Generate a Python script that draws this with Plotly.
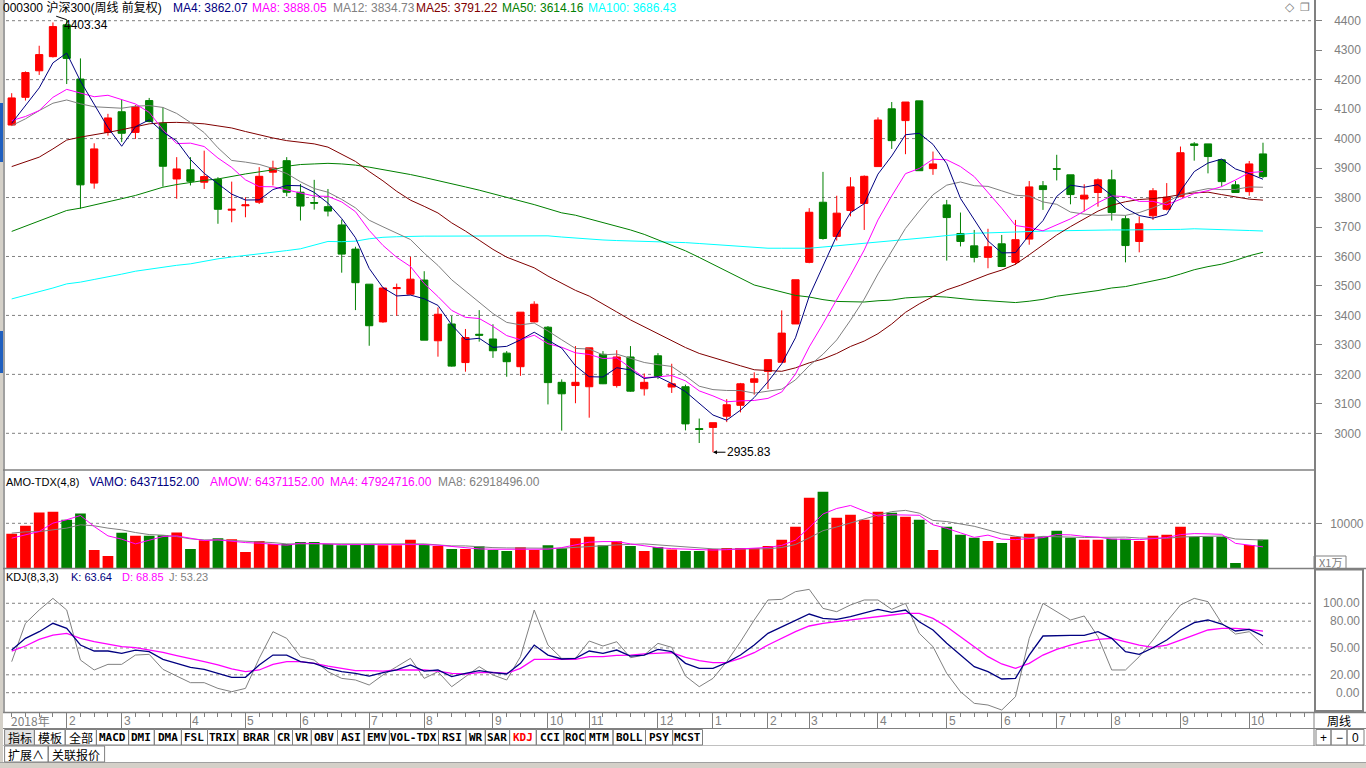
import plotly.graph_objects as go

W, H = 1366, 768
FONT = "Liberation Sans, Noto Sans CJK SC, sans-serif"
CJK = "Noto Sans CJK SC, Liberation Sans, sans-serif"
MONO = "DejaVu Sans Mono, Liberation Mono, monospace"

# ---------------- data (weekly, CSI 300) ----------------
opens = [4046, 4140, 4230, 4278, 4386, 4202, 3849, 4021, 4091, 4021,
         4129, 4052, 3863, 3894, 3852, 3862, 3757, 3772, 3784, 3886,
         3925, 3818, 3783, 3769, 3707, 3625, 3506, 3378, 3491, 3472,
         3520, 3314, 3371, 3240, 3336, 3320, 3272, 3226, 3378, 3360,
         3173, 3162, 3158, 3268, 3162, 3259, 3151, 3263, 3157, 3158,
         3016, 3020, 3058, 3095, 3173, 3210, 3241, 3371, 3580, 3784,
         3668, 3756, 3780, 3905, 4101, 4061, 4128, 3898, 3775, 3678,
         3636, 3597, 3643, 3580, 3659, 3840, 3898, 3877, 3795, 3817,
         3860, 3728, 3651, 3738, 3760, 3803, 3982, 3982, 3928, 3843,
         3820, 3948]
highs = [4154, 4228, 4315, 4394, 4403.34, 4272, 3984, 4084, 4131, 4114,
         4138, 4106, 3937, 3937, 3959, 3869, 3854, 3801, 3903, 3925,
         3937, 3846, 3860, 3829, 3725, 3633, 3506, 3495, 3508, 3599,
         3550, 3427, 3398, 3354, 3418, 3370, 3279, 3411, 3448, 3364,
         3183, 3296, 3290, 3279, 3282, 3296, 3203, 3272, 3236, 3165,
         3050, 3036, 3116, 3171, 3207, 3250, 3417, 3521, 3764, 3887,
         3806, 3869, 3875, 4072, 4124, 4124, 4128, 3956, 3792, 3749,
         3690, 3694, 3673, 3724, 3856, 3856, 3945, 3877, 3845, 3865,
         3894, 3739, 3736, 3832, 3849, 3973, 3988, 3982, 3928, 3856,
         3924, 3986]
lows = [4044, 4129, 4216, 4275, 4185, 3762, 3830, 4010, 3988, 3999,
        4055, 3837, 3796, 3841, 3829, 3711, 3716, 3733, 3778, 3841,
        3804, 3722, 3759, 3736, 3545, 3418, 3297, 3375, 3399, 3469,
        3316, 3260, 3226, 3209, 3311, 3256, 3192, 3195, 3376, 3098,
        3009, 3102, 3053, 3167, 3155, 3141, 3128, 3184, 3137, 3010,
        2967, 2935.83, 3038, 3071, 3131, 3150, 3241, 3371, 3577, 3657,
        3654, 3736, 3690, 3905, 3965, 3947, 3891, 3877, 3586, 3634,
        3580, 3560, 3564, 3572, 3640, 3758, 3858, 3777, 3753, 3769,
        3722, 3580, 3614, 3724, 3756, 3801, 3925, 3882, 3837, 3817,
        3806, 3866]
closes = [4138, 4224, 4285, 4380, 4272, 3843, 3965, 4070, 4018, 4108,
          4058, 3906, 3897, 3855, 3871, 3760, 3760, 3775, 3872, 3900,
          3818, 3771, 3781, 3754, 3608, 3511, 3365, 3493, 3494, 3523,
          3316, 3404, 3228, 3325, 3333, 3280, 3243, 3411, 3438, 3172,
          3134, 3173, 3290, 3168, 3259, 3143, 3173, 3193, 3168, 3032,
          3013, 3036, 3097, 3168, 3185, 3250, 3340, 3521, 3750, 3661,
          3747, 3836, 3872, 4063, 3993, 4124, 3891, 3914, 3732, 3651,
          3597, 3633, 3566, 3657, 3836, 3827, 3896, 3810, 3808, 3860,
          3749, 3637, 3711, 3823, 3801, 3952, 3977, 3939, 3854, 3817,
          3914, 3871]

ma4 = [4052, 4110, 4172, 4257, 4290, 4195, 4115, 4037.5, 3974, 4040,
       4063.5, 4022.5, 3992, 3929, 3882, 3846, 3811.5, 3791.5, 3792, 3827,
       3841, 3840, 3817.5, 3781, 3728.5, 3663.5, 3559.5, 3494, 3466, 3469,
       3456.5, 3434, 3368, 3318, 3322.5, 3291.5, 3295, 3317, 3343, 3316,
       3289, 3229, 3192, 3191, 3222.5, 3215, 3186, 3192, 3169, 3141.5,
       3101.5, 3062, 3044.5, 3078.5, 3121.5, 3175, 3236, 3324, 3465, 3568,
       3670, 3748.5, 3779, 3879.5, 3941, 4013, 4018, 3980.5, 3915, 3797,
       3723.5, 3653, 3612, 3613, 3673, 3721.5, 3804, 3842, 3835, 3843.5,
       3807, 3763.5, 3739, 3730, 3743, 3822, 3888, 3917, 3930.5, 3897,
       3881, 3862.07]
ma8 = [4061, 4075, 4095, 4140, 4167, 4154, 4142, 4147, 4132, 4117.5,
       4089, 4030, 3983, 3984.5, 3973, 3934, 3902, 3860, 3837, 3836.5,
       3826, 3816, 3805, 3804, 3785, 3752, 3688.5, 3637.5, 3597, 3566,
       3508, 3464, 3417, 3393.5, 3389.5, 3363, 3331.5, 3317.5, 3333, 3304,
       3292, 3273, 3267.5, 3253.5, 3256, 3222, 3189, 3191.5, 3196, 3178,
       3144, 3127, 3107, 3110, 3111.5, 3118.5, 3140, 3201, 3293, 3371.5,
       3453, 3536, 3622, 3724, 3805.5, 3881, 3898.5, 3930, 3928, 3905,
       3871, 3817, 3763.5, 3705, 3698, 3687, 3708, 3727.5, 3754, 3782.5,
       3805.5, 3803, 3787, 3787, 3775, 3793, 3813.5, 3823.5, 3837, 3859.5,
       3884.5, 3888.05]
ma12 = [4044, 4067, 4095, 4120, 4131, 4118, 4108, 4105, 4103, 4110,
        4112, 4105.6, 4085.3, 4054.7, 4020.2, 3968.7, 3925.8, 3920.2, 3912.5, 3898.5,
        3881.5, 3853.5, 3830.5, 3818, 3793.7, 3765, 3723, 3700.7, 3678.5, 3657.5,
        3611.2, 3569.7, 3520.8, 3483.5, 3446.2, 3406.5, 3376.3, 3368, 3374, 3347.2,
        3317.3, 3288, 3285.8, 3266.2, 3268.8, 3253.7, 3240.3, 3233, 3226.8, 3195.2,
        3159.8, 3148.3, 3145.3, 3145, 3136.3, 3143, 3149.8, 3181.3, 3229.3, 3268.3,
        3316.8, 3383.7, 3455.2, 3540.8, 3615.7, 3695.2, 3754, 3809.3, 3842, 3852.8,
        3840.2, 3837.7, 3822.7, 3807.7, 3804.8, 3785, 3777, 3750.7, 3743.8, 3739.3,
        3741, 3739.5, 3749, 3765, 3784.7, 3809.2, 3820.7, 3830.2, 3826.8, 3827.5,
        3836, 3834.73]
ma25 = [3905, 3920, 3937, 3965, 3995, 4005, 4012, 4021, 4030, 4041,
        4050, 4054, 4055, 4053, 4050, 4043, 4036, 4024, 4012, 4002,
        3993, 3988, 3982, 3971, 3947.6, 3922.5, 3888.2, 3856.5, 3821.1, 3791.1,
        3770, 3747.6, 3713.9, 3686.2, 3655.2, 3624.1, 3597.6, 3578.2, 3561.5, 3533.5,
        3508.5, 3485, 3465.6, 3437.4, 3411.8, 3384.8, 3360.9, 3337.4, 3314, 3291,
        3271.1, 3257.9, 3242.1, 3229.1, 3215.6, 3213, 3210.4, 3222.1, 3239.1, 3252.2,
        3270.9, 3294.6, 3313, 3338, 3370.8, 3410.4, 3439.1, 3464.1, 3486.7, 3502.4,
        3520.6, 3539, 3553.9, 3573.5, 3605.7, 3638.3, 3672.7, 3701.2, 3726.8, 3753.8,
        3773.8, 3785.7, 3793.3, 3796.2, 3801.8, 3810, 3815.6, 3818.3, 3809.9, 3802.9,
        3794.5, 3791.22]
ma50 = [3685, 3703, 3722, 3740, 3756, 3764, 3774, 3784, 3796, 3807,
        3821, 3835, 3844, 3852, 3858, 3863, 3872, 3880, 3887, 3894,
        3906, 3912, 3914, 3916, 3914, 3910, 3903, 3895, 3887, 3878,
        3868, 3858, 3847, 3836, 3825, 3813, 3801, 3789, 3776, 3762,
        3748, 3740, 3728, 3716, 3703, 3690, 3675, 3657, 3638, 3619.2,
        3596.7, 3573, 3549.2, 3525, 3503.2, 3491.4, 3478.9, 3467.9, 3462.5, 3453.6,
        3447.4, 3446, 3445.5, 3449.7, 3452.1, 3459.4, 3462, 3464.8, 3462, 3457,
        3452.6, 3449.8, 3445.5, 3443.6, 3448.2, 3454.5, 3465.1, 3471.4, 3477.7, 3484.4,
        3493.1, 3497.8, 3507.5, 3517.5, 3526.9, 3540.3, 3555, 3565.6, 3573.9, 3586.8,
        3602.4, 3614.16]
ma100 = [3456, 3468, 3479, 3493, 3507, 3513, 3522, 3530, 3540, 3550,
         3557, 3564, 3570, 3575, 3584, 3592, 3598, 3603, 3609, 3615,
         3620, 3626, 3638, 3651, 3650, 3652, 3660, 3665, 3667, 3669,
         3669, 3669, 3669, 3670, 3670, 3670, 3670, 3670, 3670, 3670,
         3666, 3662, 3658, 3656, 3654, 3653, 3652, 3651, 3649, 3647,
         3644, 3641, 3637, 3634, 3631, 3628, 3628, 3628, 3628, 3632,
         3636, 3640, 3645, 3649, 3653, 3657, 3661, 3666, 3671, 3676,
         3679, 3680, 3682, 3683, 3685, 3686, 3687, 3688, 3690, 3690,
         3690, 3690, 3690, 3690, 3691, 3692, 3694, 3693, 3691, 3689,
         3688, 3686.43]

# turnover (unit: 1万)
amount = [7666, 9444, 12399, 12554, 10777, 12177, 4111, 2778, 7888, 7222,
          7222, 7377, 7955, 4333, 6266, 6710, 6488, 3666, 6110, 5444,
          5444, 5888, 5888, 5444, 5155, 5288, 5288, 5155, 5155, 6333,
          5288, 5000, 4333, 4333, 4933, 4111, 3889, 4711, 4111, 5155,
          4489, 6710, 7000, 5155, 6044, 5000, 3889, 4777, 4177, 3889,
          3889, 4333, 4555, 4555, 4555, 5000, 6333, 9222, 15665, 17000,
          11221, 11888, 10777, 12554, 12332, 11443, 10777, 4111, 9222, 7444,
          6777, 6110, 5666, 7000, 7666, 7000, 8333, 6777, 6333, 6333,
          6555, 6555, 6110, 7222, 7444, 9222, 7000, 7000, 7000, 1222,
          5222, 6437.1152]
amo_ma4 = [6710, 7444, 8177, 10043, 10777, 11732, 9288, 7222, 6488, 5444,
           6333, 7066, 7222, 6710, 6177, 6333, 5955, 5733, 5600, 5377,
           5155, 5600, 5600, 5444, 5288, 5288, 5288, 5288, 5288, 5444,
           5288, 5155, 4844, 4622, 4333, 4266, 4266, 4266, 4111, 4266,
           4622, 5288, 5822, 5955, 5955, 5444, 5000, 4622, 4400, 4266,
           4183, 4072, 4166, 4333, 4500, 4666, 5111, 6278, 9055, 12055,
           13277, 13944, 12722, 11610, 11888, 11777, 11777, 9666, 8888, 7889,
           6889, 7388, 6499, 6388, 6611, 6833, 7500, 7444, 7111, 6944,
           6500, 6444, 6388, 6611, 6833, 7500, 7722, 7667, 7556, 5555,
           5111, 4792.4716]
amo_ma8 = [7822, 8110, 8177, 8555, 8932, 9666, 9444, 8932, 8555, 7955,
           7510, 7377, 7066, 6555, 6333, 6333, 6177, 6110, 5955, 5733,
           5444, 5444, 5444, 5444, 5444, 5444, 5444, 5444, 5444, 5444,
           5444, 5222, 5000, 5000, 4777, 4622, 4555, 4489, 4489, 4489,
           4489, 4711, 4844, 5111, 5222, 5333, 5444, 5222, 5000, 4844,
           4592, 4347, 4283, 4300, 4342, 4369, 4639, 5306, 6778, 8361,
           9194, 10111, 10889, 11833, 12583, 12861, 12250, 10638, 10388, 9833,
           9333, 8527, 7694, 7139, 6750, 7111, 7000, 6916, 6861, 6889,
           7000, 6944, 6750, 6778, 6667, 6972, 7055, 7139, 7195, 6528,
           6417, 6291.8496]

kdj_k = [47.7, 60.8, 68.2, 77.6, 72, 53.3, 46.6, 46.6, 44, 47.7,
         45.9, 37.3, 32.8, 28.3, 26, 21.6, 17.2, 17.2, 31, 42.1,
         42.1, 34.7, 32.8, 27.2, 23.5, 21.6, 18.6, 22.4, 25.4, 31,
         24.2, 25.4, 17.9, 21.6, 24.6, 22.4, 20.9, 32.8, 53.3, 42.1,
         37.7, 38.4, 46.6, 44, 47.7, 41, 42.1, 48.5, 45.9, 32.8,
         27.2, 27.2, 33.6, 42.1, 53.3, 66.4, 73.8, 81.3, 88, 83.1,
         82, 85, 89.5, 93.2, 89.9, 92.5, 79.4, 70.1, 55.2, 42.1,
         29.1, 23.5, 15.3, 16, 42.1, 63.4, 64.1, 64.1, 64.1, 68.2,
         60.8, 45.9, 42.9, 50.3, 58.9, 70.1, 78.3, 81.3, 76.8, 69,
         70.8, 63.64]
kdj_d = [46.6, 52.2, 59.7, 64.5, 66.4, 60.8, 57, 54.4, 51.5, 50.3,
         47.7, 45.1, 41.4, 38.4, 34.7, 31, 26.5, 23.5, 25.4, 31.7,
         34.7, 34.7, 32.8, 29.8, 27.2, 24.6, 24.6, 24.2, 25.4, 25.4,
         25.4, 24.2, 21.6, 20.9, 22.4, 22.7, 21.6, 27.2, 37.3, 37.3,
         37.3, 37.3, 40.3, 40.3, 41.8, 42.1, 43.3, 44, 44.7, 39.5,
         35.8, 33.6, 33.6, 38.4, 44.7, 53.3, 60.8, 68.2, 74.6, 77.6,
         79.4, 81.3, 83.1, 85.8, 86.9, 88.7, 88.7, 83.1, 73.8, 62.6,
         51.5, 40.3, 32.1, 27.2, 32.8, 42.1, 48.5, 53.3, 57, 59.7,
         60.8, 57, 53.3, 50.7, 53.3, 58.9, 64.5, 70.1, 72, 72,
         70.8, 68.85]
kdj_j = [34.7, 77.6, 92.5, 105.5, 92.5, 36.5, 25.4, 31.7, 31.7, 42.1,
         42.9, 26.1, 18.6, 11.2, 11.2, 4.8, 1.1, 4.8, 38.4, 68.2,
         60.8, 40.3, 36.5, 23.5, 16, 14.2, 8.6, 19.8, 29.1, 38.4,
         16, 23.5, 6.7, 17.9, 29.1, 19.8, 14.2, 40.3, 92.5, 53.3,
         38.4, 38.4, 57.8, 52.2, 57, 39.1, 42.1, 55.2, 50.7, 18.6,
         6.7, 16, 34.7, 57, 81.3, 103.7, 104.4, 113, 115.6, 94.3,
         90.6, 98.1, 103.7, 103.7, 93.2, 99.9, 66.4, 51.5, 21.6, 1.1,
         -11.9, -13.8, -19.4, -4.5, 60.8, 99.9, 90.6, 81.3, 85.8, 62.6,
         25.4, 25.4, 40.3, 58.9, 79.4, 98.1, 105.5, 101.8, 77.6, 65.6,
         68.2, 53.23]

month_ticks = [4, 8, 13, 17, 21, 26, 30, 35, 39, 42, 47, 51, 55, 58, 63, 68, 72, 76, 80, 85, 90]
month_labels = ["2", "3", "4", "5", "6", "7", "8", "9", "10", "11", "12",
                "1", "2", "3", "4", "5", "6", "7", "8", "9", "10"]
year_label = "2018年"
price_ticks = [3000, 3100, 3200, 3300, 3400, 3500, 3600, 3700, 3800, 3900, 4000, 4100, 4200, 4300, 4400]
price_grid = [3000, 3200, 3400, 3600, 3800, 4000, 4200, 4400]
amo_ticks = [10000]
kdj_ticks = [100, 80, 50, 20, 0]

tabs = ["指标", "模板", "全部", "MACD", "DMI", "DMA", "FSL", "TRIX", "BRAR", "CR", "VR", "OBV",
        "ASI", "EMV", "VOL-TDX", "RSI", "WR", "SAR", "KDJ", "CCI", "ROC", "MTM", "BOLL", "PSY", "MCST"]
tab_edges = [4.6, 34.4, 65.2, 96.4, 128.6, 154.3, 181.4, 207.5, 237.8, 274.6, 292.5, 311.3, 337.5,
             364.1, 389.4, 438.5, 466, 485.3, 509.6, 536.3, 563.8, 585.4, 613, 645.5, 672.6, 702.5]
tabs2 = ["扩展∧", "关联报价"]
tab2_edges = [4.6, 48.2, 104.6]

n = len(closes)
idx = list(range(n))
RED, GREEN = "#ff0000", "#008000"
GRAY = "#808080"

# ---------------- pixel helpers ----------------
def PX(x):
    return x / W

def PY(y):
    return 1 - y / H

fig = go.Figure()

fig.add_trace(go.Candlestick(
    x=idx, open=opens, high=highs, low=lows, close=closes,
    increasing=dict(line=dict(color=RED, width=1), fillcolor=RED),
    decreasing=dict(line=dict(color=GREEN, width=1), fillcolor=GREEN),
    whiskerwidth=0, xaxis="x", yaxis="y", hoverinfo="skip", showlegend=False))

for vals, col in [(ma100, "#00ffff"), (ma50, "#008000"), (ma25, "#800000"),
                  (ma12, "#808080"), (ma8, "#ff00ff"), (ma4, "#000080")]:
    fig.add_trace(go.Scatter(x=idx, y=vals, mode="lines", line=dict(color=col, width=1),
                             xaxis="x", yaxis="y", hoverinfo="skip", showlegend=False))

bar_colors = [RED if c >= o else GREEN for o, c in zip(opens, closes)]
fig.add_trace(go.Bar(x=idx, y=amount, marker=dict(color=bar_colors, line=dict(width=0)),
                     xaxis="x", yaxis="y2", hoverinfo="skip", showlegend=False))
fig.add_trace(go.Scatter(x=idx, y=amo_ma8, mode="lines", line=dict(color=GRAY, width=1),
                         xaxis="x", yaxis="y2", hoverinfo="skip", showlegend=False))
fig.add_trace(go.Scatter(x=idx, y=amo_ma4, mode="lines", line=dict(color="#ff00ff", width=1),
                         xaxis="x", yaxis="y2", hoverinfo="skip", showlegend=False))

for vals, col, wd in [(kdj_j, GRAY, 1), (kdj_d, "#ff00ff", 1.3), (kdj_k, "#000080", 1.3)]:
    fig.add_trace(go.Scatter(x=idx, y=vals, mode="lines", line=dict(color=col, width=wd),
                             xaxis="x", yaxis="y3", hoverinfo="skip", showlegend=False))

# ---------------- shapes ----------------
shapes = []
def hline(y, x0, x1, color=GRAY, width=1):
    shapes.append(dict(type="line", xref="paper", yref="paper", x0=PX(x0), x1=PX(x1),
                       y0=PY(y), y1=PY(y), line=dict(color=color, width=width)))

def vline(x, y0, y1, color=GRAY, width=1):
    shapes.append(dict(type="line", xref="paper", yref="paper", x0=PX(x), x1=PX(x),
                       y0=PY(y0), y1=PY(y1), line=dict(color=color, width=width)))

def rect(x0, y0, x1, y1, fill="rgba(0,0,0,0)", color=GRAY, width=1):
    shapes.append(dict(type="rect", xref="paper", yref="paper", x0=PX(x0), x1=PX(x1),
                       y0=PY(y1), y1=PY(y0), fillcolor=fill, line=dict(color=color, width=width), layer="above"))

for v in price_grid:
    shapes.append(dict(type="line", xref="paper", yref="y", x0=PX(6), x1=PX(1312), y0=v, y1=v,
                       line=dict(color=GRAY, width=1, dash="dot"), layer="below"))
for v in amo_ticks:
    shapes.append(dict(type="line", xref="paper", yref="y2", x0=PX(6), x1=PX(1312), y0=v, y1=v,
                       line=dict(color=GRAY, width=1, dash="dot"), layer="below"))
for v in kdj_ticks:
    shapes.append(dict(type="line", xref="paper", yref="y3", x0=PX(6), x1=PX(1312), y0=v, y1=v,
                       line=dict(color=GRAY, width=1, dash="dot"), layer="below"))

# frame
hline(470, 0, 1314, GRAY, 1.5)
hline(568.5, 0, 1366, GRAY, 1.5)
hline(712.5, 0, 1366, GRAY, 1.5)
hline(728.5, 0, 1366, GRAY, 1)
hline(745.5, 0, 1366, "#c0c0c0", 1)
vline(4, 0, 712, GRAY, 1.5)
rect(0, 0, 3, 768, fill="#d4d0c8", color="#d4d0c8", width=0)
rect(0, 103, 3, 162, fill="#1f5fbf", color="#1f5fbf", width=0)
rect(0, 331, 3, 373, fill="#1f5fbf", color="#1f5fbf", width=0)
rect(1315, 569.5, 1363, 711, color=GRAY, width=2)
rect(1314, 556, 1346, 568.5, color=GRAY, width=1)
vline(1314, 712, 746, GRAY, 1)
rect(0, 763, 1366, 768, fill="#d4d0c8", color="#d4d0c8", width=0)
hline(762.5, 0, 1366, "#a0a0a0", 1)

# tab cells
rect(tab_edges[0], 729.5, tab_edges[1], 745, fill="#e4e4e4", color=GRAY, width=1)
for i in range(1, len(tabs)):
    rect(tab_edges[i], 729.5, tab_edges[i + 1], 745, color=GRAY, width=1)
for i in range(len(tabs2)):
    rect(tab2_edges[i], 746, tab2_edges[i + 1], 762, color=GRAY, width=1)
for x0, x1 in [(1316, 1331), (1331, 1347), (1347, 1364)]:
    rect(x0, 729.5, x1, 745, color=GRAY, width=1)

# ---------------- annotations ----------------
ann = []
def txt(s, x, y, color="black", size=12, xanchor="left", family=FONT):
    ann.append(dict(text=s, x=PX(x), y=PY(y), xref="paper", yref="paper", showarrow=False,
                    xanchor=xanchor, yanchor="middle", font=dict(color=color, size=size, family=family)))

txt("000300 沪深300(周线 前复权)", 1, 8)
txt("MA4: 3862.07", 171, 8, "#000080")
txt("MA8: 3888.05", 250, 8, "#ff00ff")
txt("MA12: 3834.73", 331, 8, GRAY)
txt("MA25: 3791.22", 414, 8, "#800000")
txt("MA50: 3614.16", 500, 8, "#008000")
txt("MA100: 3686.43", 586, 8, "#00ffff")
txt("◇", 1290, 7, GRAY, 12, "center", "DejaVu Sans")
txt("❐", 1305, 7, GRAY, 11, "center", "DejaVu Sans")

txt("AMO-TDX(4,8)", 4, 482, "black", 11)
txt("VAMO: 64371152.00", 87, 482, "#000080")
txt("AMOW: 64371152.00", 208, 482, "#ff00ff")
txt("MA4: 47924716.00", 328, 482, "#ff00ff")
txt("MA8: 62918496.00", 436, 482, GRAY)
txt("X1万", 1330, 562, GRAY, 11, "center", CJK)

txt("KDJ(8,3,3)", 4, 577, "black", 11)
txt("K: 63.64", 69, 577, "#000080", 11)
txt("D: 68.85", 120, 577, "#ff00ff", 11)
txt("J: 53.23", 167, 577, GRAY, 11)

for v in kdj_ticks:
    ann.append(dict(text="%.2f" % v, x=PX(1362), y=v, xref="paper", yref="y3", showarrow=False,
                    xanchor="right", yanchor="middle", font=dict(color=GRAY, size=12, family=FONT)))

# price extremes
ann.append(dict(text="4403.34", x=4, y=4403.34, xref="x", yref="y", showarrow=False,
                xanchor="left", yanchor="middle", xshift=-5, yshift=-5,
                font=dict(color="black", size=12, family=FONT)))
ann.append(dict(text="", x=4, y=4403.34, xref="x", yref="y", showarrow=True, ax=-12, ay=-4,
                arrowhead=0, arrowwidth=1, arrowcolor="black"))
ann.append(dict(text="2935.83", x=51, y=2935.83, xref="x", yref="y", showarrow=True,
                ax=36, ay=0, arrowhead=2, arrowsize=0.8, arrowwidth=1, arrowcolor="black",
                font=dict(color="black", size=12, family=FONT)))

# month labels on the date row
ann.append(dict(text=year_label, x=0, y=PY(720.5), xref="x", yref="paper", showarrow=False,
                xanchor="left", yanchor="middle", xshift=-3,
                font=dict(color=GRAY, size=12, family=CJK)))
for t, lab in zip(month_ticks, month_labels):
    ann.append(dict(text=lab, x=t, y=PY(720.5), xref="x", yref="paper", showarrow=False,
                    xanchor="left", yanchor="middle", xshift=0,
                    font=dict(color=GRAY, size=12, family=FONT)))

# tab labels
for i, lab in enumerate(tabs):
    cx = (tab_edges[i] + tab_edges[i + 1]) / 2
    is_cjk = any(ord(ch) > 127 for ch in lab)
    s = lab if is_cjk else "<b>%s</b>" % lab
    txt(s, cx, 737.5, RED if lab == "KDJ" else "black", 12 if is_cjk else 11, "center",
        CJK if is_cjk else MONO)
for i, lab in enumerate(tabs2):
    cx = (tab2_edges[i] + tab2_edges[i + 1]) / 2
    txt(lab, cx, 754, "black", 12, "center", CJK)
txt("周线", 1339, 720.5, "black", 12, "center", CJK)
txt("+", 1323.5, 737.5, "black", 12, "center")
txt("−", 1339, 737.5, "black", 12, "center")
txt("0", 1355.5, 737.5, "black", 12, "center")

# ---------------- layout ----------------
tickfont = dict(color=GRAY, size=12, family=FONT)
fig.update_layout(
    width=W, height=H, autosize=False,
    margin=dict(l=0, r=0, t=0, b=0, pad=0),
    paper_bgcolor="white", plot_bgcolor="white",
    showlegend=False, hovermode=False, bargap=0.22, boxgap=0.25,
    xaxis=dict(domain=[PX(5), PX(1314)], range=[-0.487, 94.71], anchor="y3",
               showgrid=False, zeroline=False, showline=False, showticklabels=False,
               tickmode="array", tickvals=month_ticks, ticks="outside", ticklen=16,
               tickcolor=GRAY, tickwidth=1,
               minor=dict(ticks="outside", tickmode="linear", tick0=0, dtick=1, ticklen=4,
                          tickcolor=GRAY, tickwidth=1, showgrid=False),
               rangeslider=dict(visible=False), fixedrange=True),
    yaxis=dict(domain=[PY(470), 1], range=[2875.5, 4470.2], side="right", anchor="x",
               tickmode="array", tickvals=price_ticks, ticks="outside", ticklen=6,
               tickcolor=GRAY, tickfont=tickfont, showgrid=False, zeroline=False,
               showline=True, linecolor=GRAY, linewidth=1.5, ticklabelstandoff=10,
               fixedrange=True),
    yaxis2=dict(domain=[PY(568.5), PY(470)], range=[0, 21792], side="right", anchor="x",
                tickmode="array", tickvals=amo_ticks, ticktext=["10000"], ticks="outside",
                ticklen=6, tickcolor=GRAY, tickfont=tickfont, showgrid=False, zeroline=False,
                showline=True, linecolor=GRAY, linewidth=1.5, ticklabelstandoff=6,
                fixedrange=True),
    yaxis3=dict(domain=[PY(712), PY(568.5)], range=[-21.6, 138.9], side="right", anchor="x",
                showticklabels=False, ticks="", showgrid=False, zeroline=False,
                showline=True, linecolor=GRAY, linewidth=1.5, fixedrange=True),
    shapes=shapes, annotations=ann,
)

fig.write_html("out.html", config={"displayModeBar": False})
